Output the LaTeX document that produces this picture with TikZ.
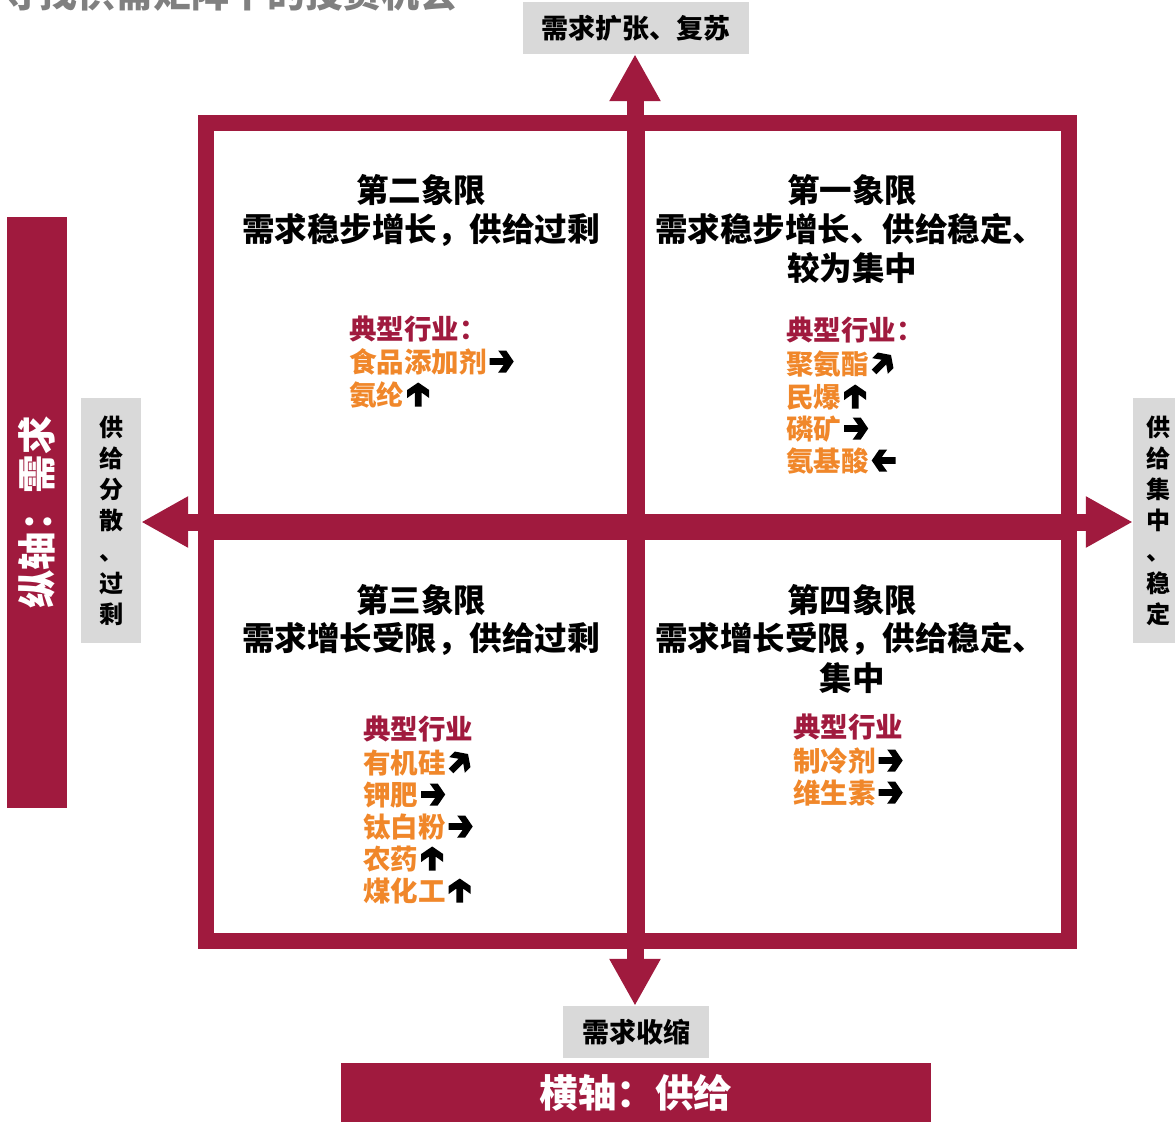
\documentclass[tikz,border=0pt]{standalone}
\usepackage{fontspec}
\setmainfont{Noto Sans CJK SC}
\usetikzlibrary{arrows.meta}
\definecolor{wine}{HTML}{A01A3E}
\definecolor{ora}{HTML}{F0872A}
\definecolor{lgray}{HTML}{D9D9D9}
\definecolor{tgray}{HTML}{808080}
\newcommand{\iarr}[1]{\hspace{3pt}\tikz[baseline={(0pt,-10.5pt)}]{\fill[black,rotate=#1] (-12pt,3.3pt) -- (2pt,3.3pt) -- (-3.5pt,11pt) -- (4.5pt,11pt) -- (12pt,0pt) -- (4.5pt,-11pt) -- (-3.5pt,-11pt) -- (2pt,-3.3pt) -- (-12pt,-3.3pt) -- cycle;}}
\begin{document}
\begin{tikzpicture}[x=1pt,y=-1pt,
  hdr/.style={anchor=base, inner sep=0, font=\fontsize{32.5}{39}\selectfont\bfseries},
  cat/.style={anchor=base west, inner sep=0, text=wine, font=\fontsize{27.5}{33}\selectfont\bfseries},
  item/.style={anchor=base west, inner sep=0, text=ora, font=\fontsize{27.5}{33}\selectfont\bfseries},
  glabel/.style={fill=lgray, inner sep=0, font=\fontsize{27}{30}\selectfont\bfseries},
  vlabel/.style={fill=lgray, inner sep=0, align=center, font=\fontsize{24}{31.2}\selectfont\bfseries},
  rlabel/.style={fill=wine, text=white, inner sep=0, font=\fontsize{38.5}{44}\selectfont\bfseries},
  bigarr/.style={draw=wine, line width=17pt, -{Triangle[width=48pt,length=47pt]}}]
\useasboundingbox (0,0) rectangle (1175,1122);

% title (cut off at top, as in the reference)
\node[anchor=base west, inner sep=0, text=tgray, font=\fontsize{38}{44}\selectfont\bfseries] (title) at (1,7) {寻找供需矩阵下的投资机会};

% axis labels
\node[glabel, minimum width=226pt, minimum height=52pt] (top) at (636,28) {需求扩张、复苏};
\node[glabel, minimum width=146pt, minimum height=52pt] (bot) at (636,1032) {需求收缩};
\node[vlabel, minimum width=60pt, minimum height=245pt] (lbox) at (111,520.5) {供\\给\\分\\散\\、\\过\\剩};
\node[vlabel, minimum width=50pt, minimum height=245pt] (rbox) at (1158,520.5) {供\\给\\集\\中\\、\\稳\\定};
\node[rlabel, rotate=90, minimum width=591pt, minimum height=60pt] (ylab) at (37,512.5) {纵轴：需求};
\node[rlabel, minimum width=590pt, minimum height=59pt] (xlab) at (636,1092.5) {横轴：供给};

% frame and cross
\node[draw=wine, line width=16pt, minimum width=863pt, minimum height=818pt, inner sep=0, outer sep=0] (frame) at (637.5,532) {};
\fill[wine] (627,115) rectangle (645,949);
\fill[wine] (198,514) rectangle (1077,540);

% axis arrows
\coordinate (upS) at (635,120);
\coordinate (dnS) at (635,944);
\coordinate (lS) at (204,522);
\coordinate (rS) at (1072,522);
\draw[bigarr] (upS) -- (upS |- top.south);
\draw[bigarr] (dnS) -- (dnS |- bot.north);
\draw[bigarr] (lS) -- (lS -| lbox.east);
\draw[bigarr] (rS) -- (rS -| rbox.west);

% quadrant II
\node[hdr] (q2a) at (421,202) {第二象限};
\node[hdr] (q2b) at (421,241) {需求稳步增长，供给过剩};
\node[cat] (q2c) at (349,339) {典型行业：};
\node[item] (q2d) at (349,372) {食品添加剂\iarr{0}};
\node[item] (q2e) at (349,405) {氨纶\iarr{90}};

% quadrant I
\node[hdr] (q1a) at (852,202) {第一象限};
\node[hdr] (q1b) at (850,241) {需求稳步增长、供给稳定、};
\node[hdr] (q1c) at (852,280) {较为集中};
\node[cat] (q1d) at (786,340) {典型行业：};
\node[item] (q1e) at (786,374) {聚氨酯\iarr{45}};
\node[item] (q1f) at (786,407) {民爆\iarr{90}};
\node[item] (q1g) at (786,439) {磷矿\iarr{0}};
\node[item] (q1h) at (786,471) {氨基酸\iarr{180}};

% quadrant III
\node[hdr] (q3a) at (421,612) {第三象限};
\node[hdr] (q3b) at (421,650) {需求增长受限，供给过剩};
\node[cat] (q3c) at (363,739) {典型行业};
\node[item] (q3d) at (363,773) {有机硅\iarr{45}};
\node[item] (q3e) at (363,805) {钾肥\iarr{0}};
\node[item] (q3f) at (363,837) {钛白粉\iarr{0}};
\node[item] (q3g) at (363,869) {农药\iarr{90}};
\node[item] (q3h) at (363,901) {煤化工\iarr{90}};

% quadrant IV
\node[hdr] (q4a) at (852,612) {第四象限};
\node[hdr] (q4b) at (850,650) {需求增长受限，供给稳定、};
\node[hdr] (q4c) at (852,690) {集中};
\node[cat] (q4d) at (793,737) {典型行业};
\node[item] (q4e) at (793,771) {制冷剂\iarr{0}};
\node[item] (q4f) at (793,803) {维生素\iarr{0}};
\end{tikzpicture}
\end{document}
